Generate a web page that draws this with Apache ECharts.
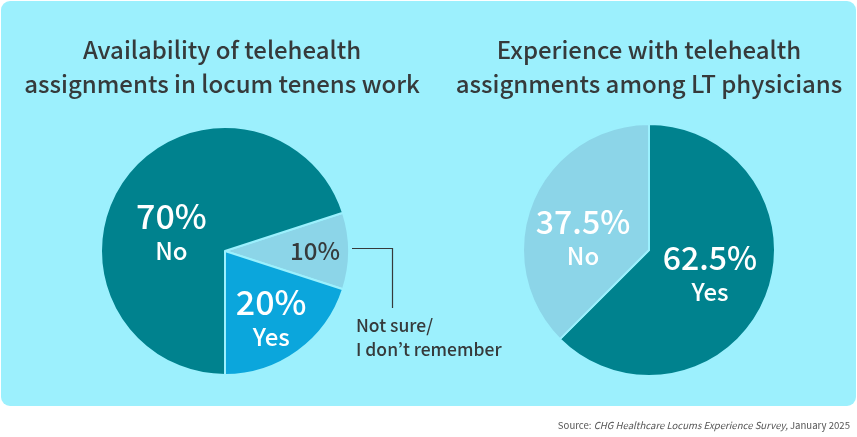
<!DOCTYPE html>
<html><head><meta charset="utf-8">
<script src="https://cdn.jsdelivr.net/npm/echarts@6/dist/echarts.min.js"></script>
<style>html,body{margin:0;padding:0;background:#fff}#c{width:857px;height:437px}</style>
</head><body><div id="c"></div>
<script>
// Data
const leftTitle = "Availability of telehealth\nassignments in locum tenens work";
const rightTitle = "Experience with telehealth\nassignments among LT physicians";
const leftNames = ["Not sure/ I don't remember", "Yes", "No"];
const leftValues = [10, 20, 70];
const leftLabels = ["10%", "20%", "70%"];
const leftShort = ["", "Yes", "No"];
const rightNames = ["Yes", "No"];
const rightValues = [62.5, 37.5];
const rightLabels = ["62.5%", "37.5%"];
const rightShort = ["Yes", "No"];
const calloutText = "Not sure/\nI don\u2019t remember";
const sourceParts = ["Source: ", "CHG Healthcare Locums Experience Survey,", " January 2025"];

const BG = '#9cf0fd', TEAL = '#00828e', BLUE = '#0ba6dc', LIGHT = '#8cd5e8', TXT = '#363a3b';
const FONT = '"Noto Sans CJK JP"';
const leftColors = [LIGHT, BLUE, TEAL];
const rightColors = [TEAL, LIGHT];
const leftOffsets = [[25, 0], [8, 16], [-1, 21]];
const rightOffsets = [[0, 0], [-5, 14]];

function mkData(names, values, colors, labels, shorts) {
  return values.map((v, i) => ({
    name: names[i], value: v,
    itemStyle: { color: colors[i] },
    label: {
      formatter: shorts[i] ? '{p|' + labels[i] + '}\n{n|' + shorts[i] + '}' : '{d|' + labels[i] + '}'
    }
  }));
}

const chart = echarts.init(document.getElementById('c'), null, { renderer: 'canvas' });
const option = {
  animation: false,
  backgroundColor: '#ffffff',
  graphic: [
    { type: 'rect', z: -10, shape: { x: 1, y: 1, width: 855, height: 405, r: 9 }, style: { fill: BG } },
    { type: 'polyline', shape: { points: [[352, 248.5], [392.5, 248.5], [392.5, 308]] }, style: { stroke: TXT, lineWidth: 1.2, fill: null } },
    { type: 'text', left: 356, top: 313, style: { text: calloutText, font: '500 17.5px ' + FONT, fill: TXT, lineHeight: 24 } },
    { type: 'text', right: 7, top: 421, style: {
        text: '{a|' + sourceParts[0] + '}{i|' + sourceParts[1] + '}{a|' + sourceParts[2] + '}',
        rich: {
          a: { fontFamily: FONT, fontSize: 9.6, fill: '#555', color: '#555' },
          i: { fontFamily: FONT, fontSize: 9.6, fontStyle: 'italic', fill: '#555', color: '#555' }
        } } }
  ],
  title: [
    { text: leftTitle, left: 217, top: 28, textAlign: 'center',
      textStyle: { fontFamily: FONT, fontWeight: 500, fontSize: 24, color: TXT, lineHeight: 34 } },
    { text: rightTitle, left: 644, top: 28, textAlign: 'center',
      textStyle: { fontFamily: FONT, fontWeight: 500, fontSize: 24, color: TXT, lineHeight: 34 } }
  ],
  series: [
    {
      type: 'pie', center: [225, 251], radius: [0, 124], startAngle: 18, clockwise: true,
      itemStyle: { borderColor: BG, borderWidth: 2 },
      label: { show: true, position: 'inside', align: 'center',
        rich: {
          p: { fontFamily: FONT, fontWeight: 500, fontSize: 34, color: '#fff', lineHeight: 35, align: 'center' },
          n: { fontFamily: FONT, fontWeight: 500, fontSize: 24, color: '#fff', lineHeight: 35, align: 'center' },
          d: { fontFamily: FONT, fontWeight: 500, fontSize: 24, color: TXT }
        } },
      labelLine: { show: false },
      labelLayout: p => ({ dx: leftOffsets[p.dataIndex][0], dy: leftOffsets[p.dataIndex][1] }),
      emphasis: { disabled: true },
      data: mkData(leftNames, leftValues, leftColors, leftLabels, leftShort)
    },
    {
      type: 'pie', center: [649, 250], radius: [0, 126], startAngle: 90, clockwise: true,
      itemStyle: { borderColor: BG, borderWidth: 2 },
      label: { show: true, position: 'inside', align: 'center',
        rich: {
          p: { fontFamily: FONT, fontWeight: 500, fontSize: 32, color: '#fff', lineHeight: 34, align: 'center' },
          n: { fontFamily: FONT, fontWeight: 500, fontSize: 24, color: '#fff', lineHeight: 34, align: 'center' }
        } },
      labelLine: { show: false },
      labelLayout: p => ({ dx: rightOffsets[p.dataIndex][0], dy: rightOffsets[p.dataIndex][1] }),
      emphasis: { disabled: true },
      data: mkData(rightNames, rightValues, rightColors, rightLabels, rightShort)
    }
  ]
};
chart.setOption(option);
</script></body></html>
